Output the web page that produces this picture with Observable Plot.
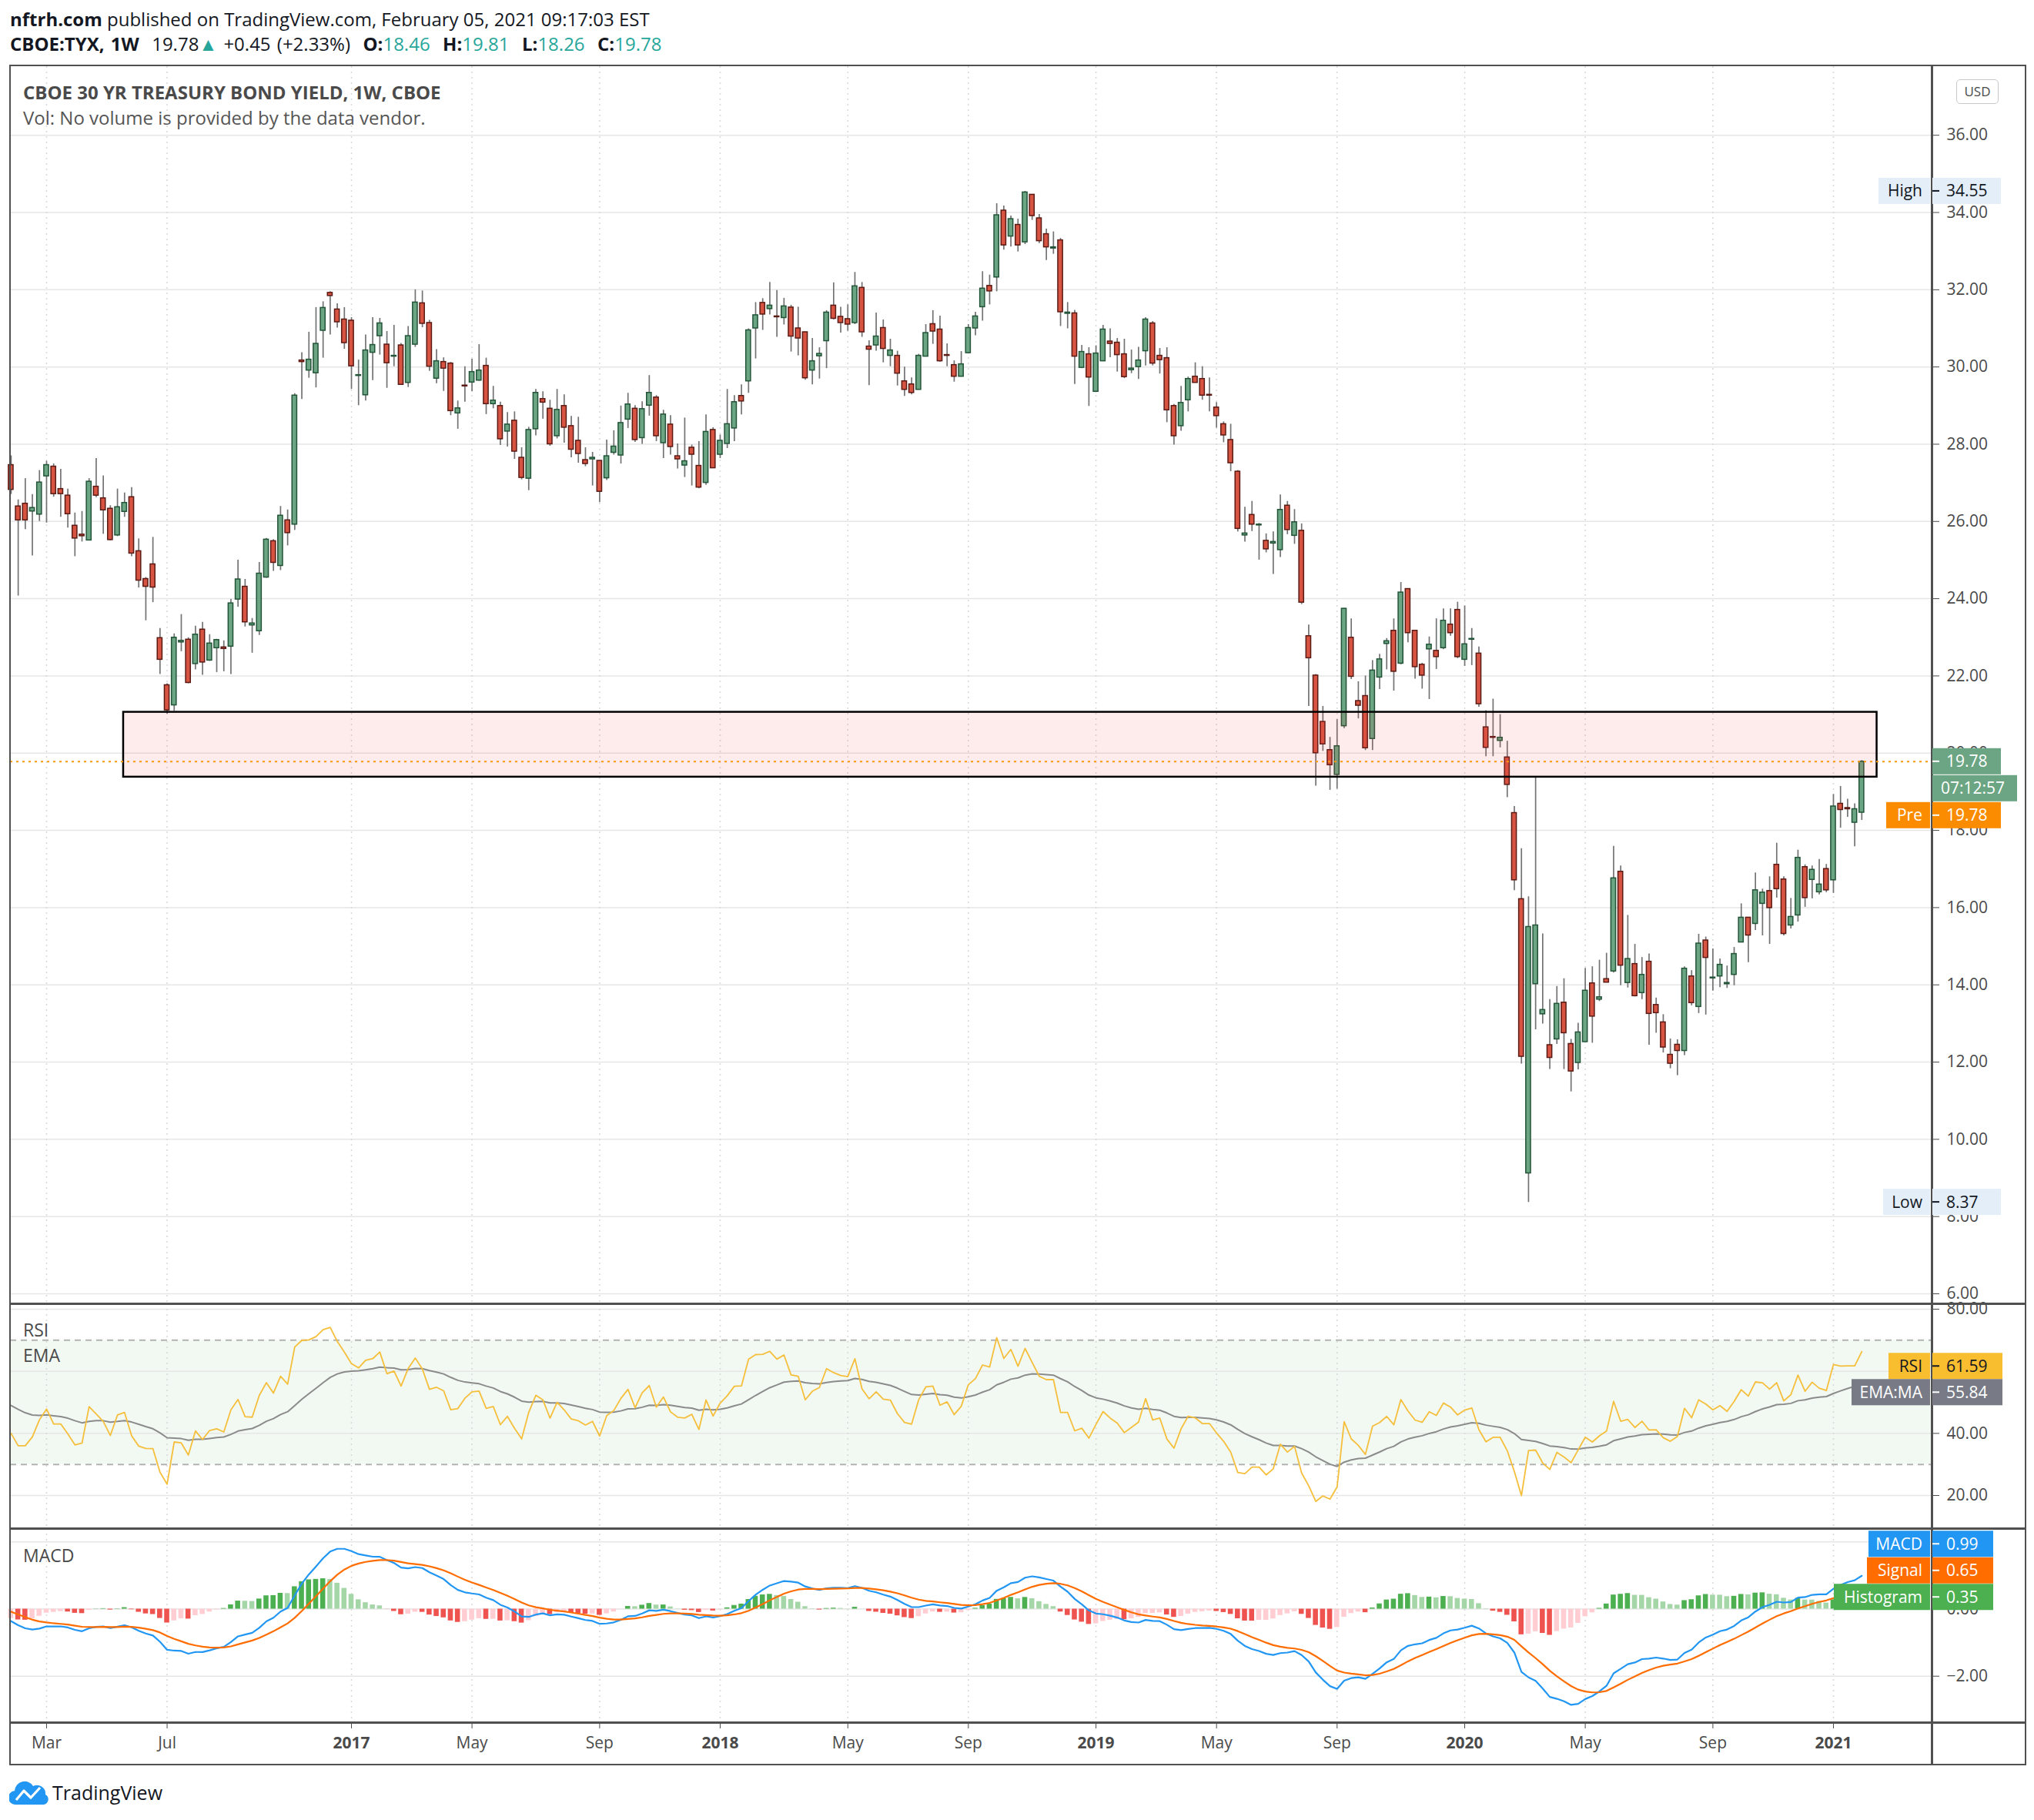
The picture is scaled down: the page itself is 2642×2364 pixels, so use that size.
<!DOCTYPE html>
<html><head><meta charset="utf-8">
<script src="https://cdn.jsdelivr.net/npm/d3@7"></script>
<script src="https://cdn.jsdelivr.net/npm/@observablehq/plot@0.6"></script>
<style>
body{margin:0;background:#fff;font-family:"Open Sans",sans-serif;}
#root{position:relative;width:2642px;height:2364px;overflow:hidden;background:#fff;}
.abs{position:absolute;white-space:nowrap;}
.teal{color:#26a69a;}
</style></head><body><div id="root"></div>
<script>
// ---------- data (weekly candles, CBOE:TYX, from week of 2016-02-01) ----------
const firstWeek = "2016-02-01";
const open = [
27.46,26.39,26.46,26.26,26.18,27.17,27.42,26.84,26.67,25.89,
25.66,25.51,26.90,26.60,26.33,25.64,26.25,26.63,25.23,24.51,
24.89,22.98,21.76,21.24,22.87,22.94,22.31,23.20,22.40,22.72,
22.74,22.76,23.98,24.31,23.31,23.16,24.55,25.49,24.85,26.03,
25.92,30.17,29.91,29.84,30.94,31.92,31.49,31.23,31.20,29.77,
29.27,30.37,30.80,30.58,30.27,30.56,29.59,30.58,31.65,31.14,
29.70,30.13,30.09,28.80,29.52,29.60,29.65,30.03,29.04,28.99,
28.33,28.61,27.65,27.11,28.39,29.17,28.92,28.21,28.99,28.47,
28.09,27.59,27.61,27.57,27.12,27.78,27.71,28.64,28.92,28.16,
29.00,29.21,28.03,28.51,27.69,27.45,27.91,27.44,27.00,28.37,
27.73,28.01,28.41,29.25,29.63,31.00,31.66,31.50,31.31,31.27,
31.54,31.00,30.90,29.91,30.28,30.67,31.59,31.30,31.24,31.14,
32.05,30.53,30.56,31.01,30.29,30.29,29.63,29.55,29.41,30.27,
31.11,30.97,30.31,30.05,29.75,30.36,31.00,31.55,32.10,32.32,
34.05,33.38,33.68,33.23,34.46,33.85,33.44,33.07,33.28,31.38,
31.39,29.98,30.33,29.36,30.15,30.66,30.63,30.33,29.92,30.00,
30.41,31.13,30.29,30.23,28.99,28.47,29.14,29.75,29.69,29.28,
28.95,28.52,28.11,27.29,25.64,26.17,25.90,25.50,25.43,25.26,
26.41,25.63,25.76,23.03,22.01,20.81,20.08,19.44,20.70,22.99,
21.35,21.48,20.37,21.96,22.83,23.17,22.32,24.25,23.17,22.29,
22.69,22.65,22.72,23.33,23.71,22.42,22.94,22.58,20.67,20.42,
20.32,19.89,18.45,16.22,9.12,14.02,13.24,12.44,12.59,13.54,
12.47,11.98,12.52,14.04,13.62,14.15,14.35,16.93,14.05,14.54,
13.79,14.60,13.48,13.03,12.19,12.45,12.29,14.22,13.43,15.15,
14.17,14.22,14.02,14.26,15.10,15.74,15.58,16.10,16.43,17.11,
16.73,15.54,15.80,17.05,16.72,16.40,17.00,16.71,18.69,18.58,
18.20,18.46];
const high = [
27.70,26.56,27.11,26.70,27.32,27.56,27.49,27.35,26.84,26.22,
26.26,27.11,27.63,27.18,26.41,26.84,26.74,26.88,25.55,24.55,
25.59,23.23,21.80,23.09,23.59,22.99,23.29,23.39,23.07,22.95,
22.91,23.98,25.00,24.50,23.49,24.94,25.56,25.53,26.39,26.30,
29.31,30.37,30.90,31.54,31.69,31.95,31.64,31.54,31.28,30.18,
30.83,31.28,31.26,30.92,31.08,30.61,31.05,32.00,31.97,31.21,
30.45,30.24,30.12,29.12,30.01,30.20,30.58,30.23,29.50,29.09,
28.82,28.84,27.91,28.44,29.42,29.36,29.14,29.42,29.28,28.72,
28.70,27.91,27.79,27.57,28.11,28.35,28.99,29.32,29.00,29.10,
29.78,29.26,28.88,28.74,28.01,28.68,27.98,28.07,28.76,28.43,
28.24,29.42,29.26,29.54,30.99,31.67,31.77,32.19,31.98,31.78,
31.60,31.55,30.90,30.74,30.50,31.46,32.18,31.55,31.61,32.45,
32.19,30.68,31.40,31.22,30.72,30.41,30.00,29.72,30.33,31.10,
31.46,31.32,30.60,30.16,30.40,31.10,31.42,32.47,32.38,34.23,
34.17,33.91,33.83,34.55,34.46,33.95,33.57,33.50,33.33,31.67,
31.47,30.56,30.50,30.55,31.08,30.99,30.74,30.72,30.44,30.51,
31.28,31.18,30.48,30.50,29.03,29.50,29.74,30.11,30.01,29.72,
29.08,28.58,28.52,27.32,26.37,26.52,25.95,25.68,25.73,26.69,
26.52,26.31,25.94,23.32,22.04,21.21,20.41,20.87,23.75,23.48,
21.85,22.00,22.40,22.56,22.97,23.48,24.42,24.25,23.17,22.33,
23.01,23.48,23.74,23.74,23.91,23.81,23.23,22.75,21.10,21.40,
21.00,20.31,18.62,17.53,16.28,19.38,15.32,13.62,13.96,14.16,
12.59,13.01,14.43,14.47,14.64,14.82,17.59,17.08,15.80,15.05,
14.71,14.80,13.66,13.23,12.60,12.58,14.47,14.37,15.31,15.24,
14.93,14.67,14.49,14.97,16.10,15.74,16.90,16.48,16.80,17.67,
16.80,16.24,17.49,17.11,17.08,17.25,17.12,18.93,19.14,18.81,
18.69,19.81];
const low = [
26.70,24.07,25.79,25.11,26.00,25.96,26.63,26.11,25.83,25.09,
25.47,25.51,26.62,25.67,25.50,25.61,26.11,25.09,24.28,23.43,
23.90,22.04,21.01,21.09,22.63,21.80,22.16,22.02,22.38,22.09,
22.11,22.04,23.78,23.27,22.59,23.05,24.53,24.71,24.73,25.37,
25.77,29.16,29.71,29.46,30.23,30.83,31.01,30.46,29.42,29.00,
29.12,29.65,30.31,29.45,30.01,29.54,29.47,30.51,31.02,29.89,
29.57,29.37,28.74,28.39,29.09,29.36,29.63,28.77,28.92,27.97,
27.93,27.61,27.08,26.80,28.22,28.65,27.95,28.14,28.03,27.65,
27.51,27.42,26.92,26.49,27.06,27.72,27.49,28.41,28.05,28.00,
28.73,28.07,27.63,27.72,27.36,27.14,26.92,26.85,26.94,27.38,
27.63,27.89,28.07,28.76,29.32,30.21,30.95,31.35,30.77,31.09,
30.39,30.29,29.66,29.54,29.69,29.96,31.22,30.88,30.93,31.10,
30.77,29.52,30.41,30.11,30.01,29.51,29.24,29.28,29.41,30.27,
30.59,30.13,30.01,29.61,29.75,30.34,30.81,31.19,31.61,31.95,
33.03,33.11,32.98,33.17,33.80,33.20,32.76,32.92,31.05,30.99,
29.55,29.96,28.98,29.34,30.15,30.24,29.87,29.70,29.83,29.68,
30.03,30.03,29.82,28.56,27.98,28.34,28.84,29.59,29.14,28.84,
28.42,28.04,27.29,25.73,25.47,25.74,25.00,25.19,24.63,25.07,
25.66,25.41,23.85,21.21,19.15,20.05,19.04,19.07,20.64,21.91,
20.89,20.07,20.07,21.65,22.16,21.61,22.29,22.86,21.92,21.66,
21.39,22.17,22.68,23.03,22.45,22.25,22.27,21.19,19.91,19.91,
20.14,18.85,16.44,11.95,8.37,12.84,12.99,11.81,12.46,11.81,
11.23,11.80,12.52,12.49,13.57,14.06,14.31,13.98,13.92,13.69,
13.62,12.44,12.75,12.24,11.83,11.65,12.17,13.46,13.26,13.22,
13.84,13.93,13.91,13.98,15.10,14.58,15.41,15.27,15.05,16.25,
15.27,15.45,15.63,16.01,16.23,16.33,16.39,16.37,18.06,18.34,
17.58,18.26];
const close = [
26.82,26.03,26.03,26.35,27.01,27.46,26.71,26.71,26.19,25.56,
25.62,27.03,26.67,26.29,25.52,26.37,26.48,25.17,24.47,24.31,
24.29,22.42,21.11,22.99,22.91,21.82,23.07,22.35,22.84,22.93,
22.70,23.88,24.50,23.39,23.36,24.65,25.53,24.93,26.15,25.70,
29.26,30.13,30.19,30.60,31.53,31.84,31.16,30.62,30.02,29.79,
30.43,30.57,31.13,30.10,30.29,29.54,30.80,31.67,31.12,30.01,
30.15,29.96,28.86,28.93,29.50,29.87,29.91,29.04,29.13,28.13,
28.51,27.81,27.13,28.37,29.33,29.08,28.00,28.89,28.43,27.86,
27.75,27.49,27.65,26.77,27.69,27.94,28.55,29.03,28.11,28.91,
29.33,28.21,28.77,27.93,27.61,27.56,27.73,26.88,28.32,27.38,
28.09,28.52,29.09,29.11,30.95,31.34,31.36,31.59,31.29,31.57,
30.79,30.74,29.71,30.15,30.34,31.41,31.25,31.14,31.10,32.09,
30.90,30.45,30.79,30.47,30.43,29.83,29.41,29.33,30.29,30.88,
30.92,30.15,30.29,29.75,30.07,31.01,31.31,32.03,31.96,33.93,
33.15,33.83,33.15,34.52,33.91,33.26,33.10,33.10,31.42,31.41,
30.27,30.39,29.73,30.35,30.97,30.60,30.31,29.74,29.96,30.17,
31.23,30.09,30.18,28.88,28.21,29.07,29.69,29.59,29.26,29.26,
28.73,28.23,27.51,25.81,25.69,25.92,25.92,25.28,25.47,26.30,
25.78,25.98,23.90,22.46,20.00,20.23,19.69,20.18,23.74,21.98,
21.23,20.13,22.14,22.43,22.90,22.11,24.16,23.11,22.23,22.01,
22.81,22.49,23.43,23.11,22.49,22.82,22.96,21.27,20.14,20.40,
20.40,19.18,16.71,12.14,15.50,15.54,13.35,12.11,13.51,12.75,
11.76,12.77,13.85,13.18,13.68,14.06,16.76,14.50,14.67,13.71,
14.26,13.25,13.27,12.38,11.96,12.29,14.42,13.53,15.07,14.70,
14.19,14.52,14.05,14.80,15.74,15.28,16.45,16.39,15.99,16.48,
15.32,15.76,17.29,16.25,16.98,16.60,16.45,18.62,18.53,18.55,
18.55,19.78];

// month / year tick labels of the time axis
const monthTicks = ["2016-03-07","2016-07-04","2017-05-01","2017-09-04","2018-05-07","2018-09-03","2019-05-06","2019-09-02","2020-05-04","2020-09-07"];
const yearTicks = ["2017-01-02","2018-01-01","2019-01-07","2020-01-06","2021-01-04"];
const priceTicks = [6,8,10,12,14,16,18,20,22,24,26,28,30,32,34,36];
const rsiTicks = [20,40,60,80];
const rsiLabelTicks = [20,40,80];          // 60.00 sits under the RSI tag
const macdTicks = [-2,0,2];
const macdLabelTicks = [-2,0];             // 2.00 sits under the MACD tag

// highlighted support/resistance zone drawn on the chart
const zoneStart = ["2016-05-22"], zoneEnd = ["2021-02-16"], zoneLow = [19.38], zoneHigh = [21.06];

// indicator read-outs at the left edge (warm-up state) and the right-hand labels
const rsiStart = 40, rsiMaStart = 49, macdStart = -0.36, signalStart = -0.08;
const lastLabels = {rsi: 61.59, rsiMa: 55.84, macd: 0.99, signal: 0.65, hist: 0.35, price: 19.78, high: 34.55, low: 8.37};

// ---------- build tables ----------
const DAY = 864e5;
const t0 = Date.parse(firstWeek + "T00:00:00Z");
const dates = close.map((_, i) => new Date(t0 + i * 7 * DAY));
const candles = dates.map((d, i) => ({date: d, o: open[i], h: high[i], l: low[i], c: close[i], up: close[i] >= open[i]}));

// RSI(14, Wilder) + EMA(20) of RSI, MACD(12,26,9)
let ag = 0.22, al = 0.22 * (100 - rsiStart) / rsiStart;
let e12 = close[0] + 1.08, e26 = e12 - macdStart, sig = signalStart, rma = rsiMaStart;
const ind = [];
for (let i = 0; i < close.length; i++) {
  let rsi;
  if (i === 0) rsi = 100 - 100 / (1 + ag / al);
  else {
    const ch = close[i] - close[i - 1];
    ag = (ag * 13 + Math.max(ch, 0)) / 14;
    al = (al * 13 + Math.max(-ch, 0)) / 14;
    rsi = 100 - 100 / (1 + ag / al);
    rma = rma + (2 / 21) * (rsi - rma);
    e12 = e12 + (2 / 13) * (close[i] - e12);
    e26 = e26 + (2 / 27) * (close[i] - e26);
  }
  const macd = e12 - e26;
  if (i > 0) sig = sig + 0.2 * (macd - sig);
  const hist = macd - sig;
  ind.push({date: dates[i], rsi, rma, macd, sig, hist});
}
ind.forEach((d, i) => {
  const prev = i > 0 ? ind[i - 1].hist : d.hist - 0.01;
  d.col = d.hist >= 0 ? (d.hist > prev ? "#4CAF50" : "#A5D6A7") : (d.hist < prev ? "#EF5350" : "#FFCDD2");
});

// ---------- layout ----------
const W = 2642, PL = 13, PR = 2509;
const FONT = "'Open Sans', sans-serif";
const xDomain = [new Date(t0 - 0.1 * 7 * DAY), new Date(t0 + 270.9 * 7 * DAY)];
const parse = s => new Date(s + "T00:00:00Z");
const mTicks = monthTicks.map(parse), yTicks = yearTicks.map(parse), allTicks = mTicks.concat(yTicks);
const HALF = 2.35 * DAY;
const root = document.getElementById("root");
const baseStyle = {fontFamily: FONT, fontSize: "21px", color: "#4a4a4a", background: "transparent", overflow: "visible"};
const xOpt = {type: "utc", domain: xDomain, axis: null, label: null};
const vGrid = Plot.ruleX(allTicks, {stroke: "#d8d8d8", strokeDasharray: "2,5", strokeWidth: 1.5});
const fmt2 = d => (d < 0 ? "\u2212" + (-d).toFixed(2) : d.toFixed(2));

function place(el, top) {
  const wrap = document.createElement("div");
  wrap.className = "abs"; wrap.style.left = "0px"; wrap.style.top = top + "px";
  wrap.appendChild(el); root.appendChild(wrap);
}
function tag(svg, cy, o) {
  const g = d3.select(svg).append("g").attr("font-family", FONT).attr("font-size", 21);
  const h = 34;
  if (o.name) {
    g.append("rect").attr("x", o.nameX).attr("y", cy - h / 2).attr("width", 2507 - o.nameX).attr("height", h).attr("fill", o.nameFill || o.fill);
    g.append("text").attr("x", 2497).attr("y", cy).attr("dy", "0.36em").attr("text-anchor", "end").attr("fill", o.color).text(o.name);
  }
  g.append("rect").attr("x", o.valX || 2510).attr("y", cy - h / 2).attr("width", o.valW || 89).attr("height", h).attr("fill", o.fill);
  if (o.tick !== false) g.append("line").attr("x1", 2510).attr("x2", 2519).attr("y1", cy).attr("y2", cy).attr("stroke", o.color).attr("stroke-width", 2);
  g.append("text").attr("x", o.textX || 2528).attr("y", cy).attr("dy", "0.36em").attr("text-anchor", "start").attr("fill", o.color).text(o.value);
}

// ---------- main price pane ----------
const main = Plot.plot({
  width: W, height: 1607, marginLeft: PL, marginRight: W - PR, marginTop: 0, marginBottom: 0,
  style: baseStyle, x: xOpt,
  y: {domain: [5.741, 37.778], axis: null, label: null},
  marks: [
    Plot.ruleY(priceTicks, {stroke: "#e6e6e6", strokeWidth: 1.5}),
    vGrid,
    Plot.ruleX(candles, {x: "date", y1: "l", y2: "h", stroke: "#737375", strokeWidth: 1.7}),
    Plot.rect(candles, {x1: d => new Date(+d.date - HALF), x2: d => new Date(+d.date + HALF), y1: "o", y2: "c",
      fill: d => d.up ? "#6BA583" : "#D75442", stroke: d => d.up ? "#225437" : "#5B1A13", strokeWidth: 1.5}),
    Plot.rect(zoneStart.map((s, i) => ({x1: parse(s), x2: parse(zoneEnd[i]), y1: zoneLow[i], y2: zoneHigh[i]})),
      {x1: "x1", x2: "x2", y1: "y1", y2: "y2", fill: "#F23645", fillOpacity: 0.1, stroke: "#000", strokeWidth: 2.5}),
    Plot.ruleY([lastLabels.price], {stroke: "#FF9800", strokeDasharray: "3,5", strokeWidth: 2}),
    Plot.axisY({anchor: "right", ticks: priceTicks, tickFormat: fmt2, tickSize: 9, tickPadding: 10, label: null})
  ]
});
place(main, 86);

// ---------- RSI pane ----------
const rsiPlot = Plot.plot({
  width: W, height: 292, marginLeft: PL, marginRight: W - PR, marginTop: 0, marginBottom: 0,
  style: baseStyle, x: xOpt,
  y: {domain: [9.34, 81.74], axis: null, label: null},
  marks: [
    Plot.rect([{x1: xDomain[0], x2: xDomain[1], y1: 30, y2: 70}], {x1: "x1", x2: "x2", y1: "y1", y2: "y2", fill: "#4CAF50", fillOpacity: 0.07}),
    Plot.ruleY(rsiTicks, {stroke: "#e6e6e6", strokeWidth: 1.5}),
    vGrid,
    Plot.ruleY([30, 70], {stroke: "#b3b3b3", strokeDasharray: "8,6", strokeWidth: 2}),
    Plot.line(ind, {x: "date", y: "rma", stroke: "#8b8b8b", strokeWidth: 2}),
    Plot.line(ind, {x: "date", y: "rsi", stroke: "#F5BF3C", strokeWidth: 1.8}),
    Plot.axisY({anchor: "right", ticks: rsiLabelTicks, tickFormat: fmt2, tickSize: 9, tickPadding: 10, label: null})
  ]
});
place(rsiPlot, 1693);

// ---------- MACD pane (with time axis) ----------
const macdPlot = Plot.plot({
  width: W, height: 307, marginLeft: PL, marginRight: W - PR, marginTop: 0, marginBottom: 55,
  style: baseStyle, x: xOpt,
  y: {domain: [-3.383, 2.397], axis: null, label: null},
  marks: [
    Plot.ruleY(macdTicks, {stroke: "#e6e6e6", strokeWidth: 1.5}),
    vGrid,
    Plot.rect(ind, {x1: d => new Date(+d.date - 2.5 * DAY), x2: d => new Date(+d.date + 2.5 * DAY), y1: 0, y2: "hist", fill: "col"}),
    Plot.line(ind, {x: "date", y: "macd", stroke: "#2196F3", strokeWidth: 2.2}),
    Plot.line(ind, {x: "date", y: "sig", stroke: "#FF6D00", strokeWidth: 2.2}),
    Plot.axisY({anchor: "right", ticks: macdLabelTicks, tickFormat: fmt2, tickSize: 9, tickPadding: 10, label: null}),
    Plot.axisX({anchor: "bottom", ticks: mTicks, tickFormat: d3.utcFormat("%b"), tickSize: 8, tickPadding: 11, label: null, fontSize: 21}),
    Plot.axisX({anchor: "bottom", ticks: yTicks, tickFormat: d3.utcFormat("%Y"), tickSize: 8, tickPadding: 11, label: null, fontSize: 21, fontWeight: "bold"})
  ]
});
place(macdPlot, 1985);

// ---------- frame, separators, texts ----------
function div(style, html) {
  const d = document.createElement("div"); d.className = "abs"; d.style.cssText = style; if (html) d.innerHTML = html; root.appendChild(d); return d;
}
div("left:12px;top:84px;width:2620px;height:2209px;border:2.5px solid #505050;box-sizing:border-box;");
[1692, 1984, 2236].forEach(y => div(`left:12px;top:${y}px;width:2620px;height:2.5px;background:#505050;`));
div("left:2508px;top:84px;width:2.5px;height:2209px;background:#505050;");

// right-hand value tags (drawn over the axis line)
function overlay(svg, top) {
  const s = d3.create("svg").attr("width", W).attr("height", +svg.getAttribute("height"))
    .style("position", "absolute").style("left", "0px").style("top", top + "px").style("overflow", "visible");
  root.appendChild(s.node());
  return s.node();
}
{
  const ys = main.scale("y"), o = overlay(main, 86);
  tag(o, ys.apply(lastLabels.high), {name: "High", nameX: 2440, fill: "#E3EEF9", color: "#131722", value: lastLabels.high.toFixed(2)});
  tag(o, ys.apply(lastLabels.low), {name: "Low", nameX: 2446, fill: "#E3EEF9", color: "#131722", value: lastLabels.low.toFixed(2)});
  const cy = ys.apply(lastLabels.price);
  tag(o, cy, {fill: "#6BA583", color: "#ffffff", value: lastLabels.price.toFixed(2)});
  tag(o, cy + 35, {fill: "#6BA583", color: "#ffffff", value: "07:12:57", valW: 110, tick: false, textX: 2521});
  tag(o, cy + 70, {name: "Pre", nameX: 2450, fill: "#FB8C00", color: "#ffffff", value: lastLabels.price.toFixed(2)});
}
{
  const ys = rsiPlot.scale("y"), o = overlay(rsiPlot, 1693);
  const c1 = ys.apply(lastLabels.rsi);
  tag(o, c1, {name: "RSI", nameX: 2453, fill: "#F9BE30", color: "#131722", value: lastLabels.rsi.toFixed(2), valW: 91});
  const c2 = Math.max(ys.apply(lastLabels.rsiMa), c1 + 34);
  tag(o, c2, {name: "EMA:MA", nameX: 2405, fill: "#787B86", color: "#ffffff", value: lastLabels.rsiMa.toFixed(2), valW: 91});
}
{
  const ys = macdPlot.scale("y"), o = overlay(macdPlot, 1985);
  const ch = ys.apply(lastLabels.hist);
  tag(o, ch, {name: "Histogram", nameX: 2382, fill: "#4CAF50", color: "#ffffff", value: lastLabels.hist.toFixed(2), valW: 79});
  tag(o, ch - 34.5, {name: "Signal", nameX: 2425, fill: "#FF6D00", color: "#ffffff", value: lastLabels.signal.toFixed(2), valW: 79});
  tag(o, ch - 69, {name: "MACD", nameX: 2427, fill: "#2196F3", color: "#ffffff", value: lastLabels.macd.toFixed(2), valW: 79});
}

div("left:13px;top:9px;font-size:24px;line-height:32px;color:#131722;", "<b>nftrh.com</b> published on TradingView.com, February 05, 2021 09:17:03 EST");
div("left:13px;top:41px;font-size:24px;line-height:32px;color:#131722;word-spacing:2px;",
  "<b>CBOE:TYX, 1W</b>&nbsp;&nbsp;19.78<span class='teal'>\u25B2</span> +0.45 (+2.33%)&nbsp; <b>O:</b><span class='teal'>18.46</span>&nbsp; <b>H:</b><span class='teal'>19.81</span>&nbsp; <b>L:</b><span class='teal'>18.26</span>&nbsp; <b>C:</b><span class='teal'>19.78</span>");
div("left:30px;top:104px;font-size:24px;line-height:32px;font-weight:bold;color:#4a4a4a;", "CBOE 30 YR TREASURY BOND YIELD, 1W, CBOE");
div("left:30px;top:137px;font-size:24px;line-height:32px;color:#555;", "Vol: No volume is provided by the data vendor.");
div("left:2541px;top:103px;width:55px;height:32px;border:1.5px solid #c9c9c9;border-radius:5px;box-sizing:border-box;font-size:17px;line-height:29px;text-align:center;color:#4a4a4a;background:#fff;", "USD");
div("left:30px;top:1712px;font-size:23px;line-height:30px;color:#4a4a4a;", "RSI");
div("left:30px;top:1745px;font-size:23px;line-height:30px;color:#4a4a4a;", "EMA");
div("left:30px;top:2005px;font-size:23px;line-height:30px;color:#4a4a4a;", "MACD");
div("left:12px;top:2311px;width:54px;height:34px;",
  "<svg width='54' height='34' viewBox='0 0 54 34'><path d='M9 33 A9 9 0 0 1 7 15 A13 13 0 0 1 31 9 A11 11 0 0 1 47 20 A7 7 0 0 1 45 33 Z' fill='#2196F3'/><polyline points='9,27 19,15 28,24 40,11' stroke='#fff' stroke-width='3.2' fill='none' stroke-linejoin='round'/></svg>");
div("left:68px;top:2311px;font-size:25px;line-height:34px;color:#131722;", "TradingView");
</script></body></html>
